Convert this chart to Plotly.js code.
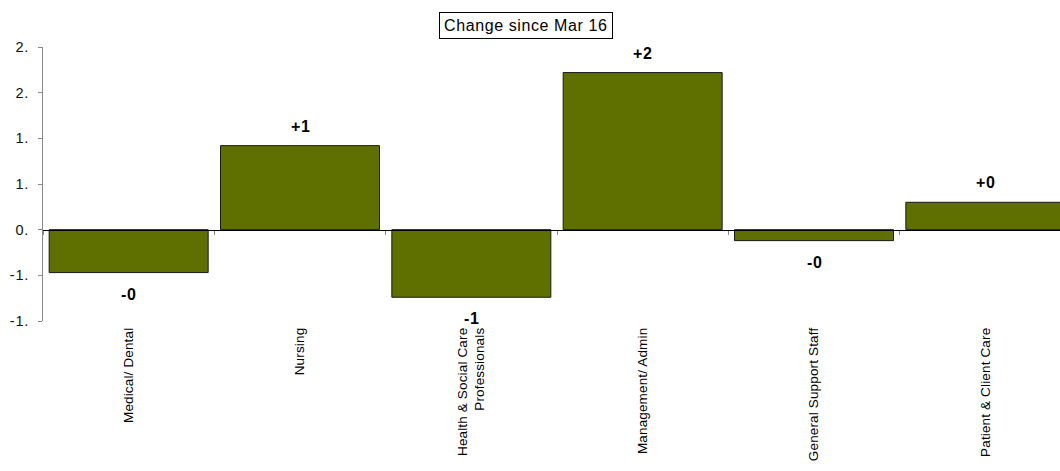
<!DOCTYPE html>
<html>
<head>
<meta charset="utf-8">
<script src="https://cdn.plot.ly/plotly-3.0.1.min.js"></script>
<style>
html, body { margin: 0; padding: 0; overflow: hidden; background: #fff; }
#chart { width: 1071px; height: 471px; }
.xtick text { letter-spacing: 0.15px; }
.ytick text { letter-spacing: 0.8px; }
.annotation-text { letter-spacing: 0.6px; }
</style>
</head>
<body>
<div id="chart"></div>
<script>
// ---- data ----
const categories = [
  "Medical/ Dental",
  "Nursing",
  "Health & Social Care<br>Professionals",
  "Management/ Admin",
  "General Support Staff",
  "Patient & Client Care"
];
const changeValues = [-0.47, 0.92, -0.74, 1.72, -0.12, 0.30];
const yTickVals = [2, 1.5, 1, 0.5, 0, -0.5, -1];
const yTickText = ["2.", "2.", "1.", "1.", "0.", "-1.", "-1."];
const chartTitle = "Change since Mar 16";

// labels shown on the bars: sign + rounded magnitude
const barLabels = changeValues.map(v => (v < 0 ? "-" : "+") + Math.abs(Math.round(v)));

const barColor = "#5f7000";
const fontFam = "Liberation Sans, Arial, sans-serif";

const traces = [
  {
    type: "bar",
    x: categories,
    y: changeValues,
    xaxis: "x2",
    yaxis: "y",
    marker: { color: barColor, line: { color: "#1a1a1a", width: 1 } },
    hoverinfo: "skip"
  },
  {
    // carries the category labels on the bottom axis (not visible)
    type: "bar",
    x: categories,
    y: changeValues,
    xaxis: "x",
    yaxis: "y",
    opacity: 0,
    hoverinfo: "skip",
    showlegend: false
  }
];

const annotations = categories.map((c, i) => {
  const v = changeValues[i];
  return {
    xref: "x2", yref: "y",
    x: c, y: v,
    text: barLabels[i],
    showarrow: false,
    yanchor: v >= 0 ? "bottom" : "top",
    yshift: v >= 0 ? 9 : -11,
    font: { family: fontFam, size: 16, color: "#000", weight: "bold" }
  };
});

annotations.push({
  xref: "paper", yref: "paper",
  x: 0.4695, y: 1, yanchor: "middle", yshift: 22,
  text: chartTitle,
  showarrow: false,
  bordercolor: "#000", borderwidth: 1, borderpad: 4,
  bgcolor: "#fff",
  font: { family: fontFam, size: 16, color: "#000" }
});

const layout = {
  width: 1071,
  height: 471,
  margin: { l: 43, r: 0, t: 47, b: 150 },
  paper_bgcolor: "#fff",
  plot_bgcolor: "#fff",
  showlegend: false,
  bargap: 0.072,
  font: { family: fontFam, color: "#000" },
  xaxis: {
    type: "category",
    categoryarray: categories,
    range: [-0.5, 5.5],
    showline: false,
    ticks: "",
    tickangle: -90,
    ticklabelstandoff: 3,
    tickfont: { family: fontFam, size: 13.5, color: "#000" },
    showgrid: false,
    zeroline: false,
    fixedrange: true
  },
  xaxis2: {
    type: "category",
    categoryarray: categories,
    range: [-0.5, 5.5],
    overlaying: "x",
    anchor: "free",
    position: 1 / 3,
    side: "bottom",
    showline: true,
    linecolor: "#000",
    linewidth: 1,
    ticks: "outside",
    tickson: "boundaries",
    ticklen: 4,
    tickcolor: "#888",
    showticklabels: false,
    showgrid: false,
    zeroline: false,
    fixedrange: true
  },
  yaxis: {
    range: [-1, 2],
    tickvals: yTickVals,
    ticktext: yTickText,
    showline: true,
    linecolor: "#888",
    linewidth: 1,
    ticks: "outside",
    ticklen: 4,
    tickcolor: "#888",
    ticklabelstandoff: 6,
    tickfont: { family: fontFam, size: 14.5, color: "#111" },
    showgrid: false,
    zeroline: false,
    fixedrange: true
  },
  annotations: annotations
};

Plotly.newPlot("chart", traces, layout, { displayModeBar: false, staticPlot: true });
</script>
</body>
</html>
